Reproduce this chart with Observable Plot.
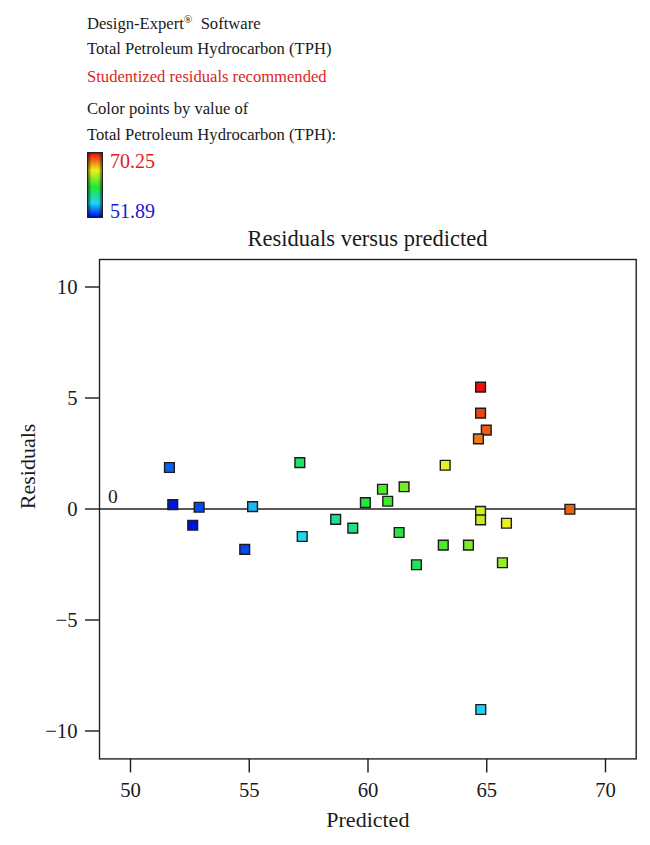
<!DOCTYPE html>
<html>
<head>
<meta charset="utf-8">
<script src="https://cdn.jsdelivr.net/npm/d3@7"></script>
<script src="https://cdn.jsdelivr.net/npm/@observablehq/plot@0.6"></script>
<style>
  html, body { margin: 0; padding: 0; background: #fff; }
  body { width: 650px; height: 845px; overflow: hidden; color: #1a1a1a; font-family: "Liberation Serif", "DejaVu Serif", serif; }
  #header { position: relative; width: 650px; height: 250px; }
  #header .ln { position: absolute; left: 87px; font-size: 16.6px; line-height: 16.6px; white-space: nowrap; }
  #header sup { font-size: 0.68em; line-height: 0; vertical-align: 0.5em; }
  #ramp { position: absolute; left: 87px; top: 152px; width: 14px; height: 64px; border: 1px solid #222;
          box-shadow: inset 2px 0 2px rgba(0,0,0,0.45), inset -2px 0 2px rgba(0,0,0,0.45); }
  .lg { position: absolute; left: 110px; font-size: 20px; line-height: 20px; white-space: nowrap; }
  #title { position: absolute; left: 99px; width: 537px; text-align: center; font-size: 22.5px; line-height: 22.5px; top: 228.2px; white-space: nowrap; }
  #chart svg { display: block; font-family: "Liberation Serif", "DejaVu Serif", serif; }
  #chart svg g[aria-label="x-axis tick"] path, #chart svg g[aria-label="y-axis tick"] path { stroke-width: 1.4px; }
</style>
</head>
<body>
<div id="header">
  <div class="ln" style="top:15.5px">Design-Expert<sup>®</sup>&nbsp; Software</div>
  <div class="ln" style="top:40.5px">Total Petroleum Hydrocarbon (TPH)</div>
  <div class="ln" style="top:69px;color:#e01e1e">Studentized residuals recommended</div>
  <div class="ln" style="top:100.5px">Color points by value of</div>
  <div class="ln" style="top:127px">Total Petroleum Hydrocarbon (TPH):</div>
  <div id="ramp"></div>
  <div class="lg" id="lgMax" style="top:150.6px;color:#e21a1a"></div>
  <div class="lg" id="lgMin" style="top:200.6px;color:#1a1ad6"></div>
  <div id="title">Residuals versus predicted</div>
</div>
<div id="chart"></div>
<script>
// ---- data ----
const predicted = [51.64, 51.78, 52.89, 52.62, 54.81, 55.14, 57.13, 57.23, 58.64, 59.36,
                   59.89, 60.61, 60.83, 61.52, 61.31, 63.17, 62.04, 64.23, 65.66, 63.25,
                   64.74, 64.74, 64.98, 64.65, 64.74, 64.74, 65.83, 68.50, 64.75];
const residuals = [1.87, 0.20, 0.08, -0.73, -1.82, 0.11, 2.09, -1.24, -0.47, -0.86,
                   0.29, 0.89, 0.35, 1.00, -1.06, -1.63, -2.51, -1.63, -2.42, 1.97,
                   5.49, 4.32, 3.55, 3.16, -0.11, -0.49, -0.64, -0.01, -9.03];
const xTicks = [50, 55, 60, 65, 70];
const yTicks = [-10, -5, 0, 5, 10];
const legendRange = [51.89, 70.25];   // min, max of TPH colour legend
const referenceLine = [0];

// ---- styling ----
const colorFractions = [0, 0.213, 0.469, 0.73, 1];
const colorRange = ["#0010e8", "#20d4f6", "#22e832", "#eef020", "#f00c0c"];
const [lo, hi] = legendRange;
const colorDomain = colorFractions.map(f => lo + f * (hi - lo));

document.getElementById("lgMax").textContent = d3.format(".2f")(hi);
document.getElementById("lgMin").textContent = d3.format(".2f")(lo);
document.getElementById("ramp").style.background =
  "linear-gradient(to bottom, " + colorRange.slice().reverse().map((c, i) => c + " " + ((1 - colorFractions[colorFractions.length - 1 - i]) * 100).toFixed(1) + "%").join(", ") + ")";

const data = predicted.map((p, i) => ({predicted: p, residual: residuals[i], actual: p + residuals[i]}));

const chart = Plot.plot({
  width: 650,
  height: 595,
  marginTop: 9,
  marginBottom: 86.6,
  marginLeft: 99,
  marginRight: 14.3,
  style: {fontFamily: '"Liberation Serif", "DejaVu Serif", serif', fontSize: "20.7px", color: "#1a1a1a", background: "#fff"},
  x: {domain: [48.695, 71.293], ticks: xTicks, tickSize: 14, tickPadding: 9, label: null},
  y: {domain: [-11.257, 11.239], ticks: yTicks, tickSize: 14, tickPadding: 8, label: null},
  color: {type: "linear", domain: colorDomain, range: colorRange, interpolate: "rgb"},
  marks: [
    Plot.ruleY(referenceLine, {stroke: "#222", strokeWidth: 1.4}),
    Plot.text(referenceLine, {y: d => d, frameAnchor: "left", text: d => String(d), textAnchor: "start", dx: 8.5, dy: -12.5, fontSize: 19.5, fill: "#1a1a1a"}),
    Plot.dot(data, {x: "predicted", y: "residual", fill: "actual", symbol: "square", r: 5.5, stroke: "#1c1c1c", strokeWidth: 1.4}),
    Plot.frame({stroke: "#222", strokeWidth: 1.4}),
    Plot.text(["Residuals"], {frameAnchor: "left", text: d => d, rotate: -90, dx: -72, fontSize: 22, fill: "#1a1a1a"}),
    Plot.text(["Predicted"], {frameAnchor: "bottom", text: d => d, dy: 68.5, fontSize: 22, fill: "#1a1a1a"})
  ]
});
document.getElementById("chart").appendChild(chart);
</script>
</body>
</html>
